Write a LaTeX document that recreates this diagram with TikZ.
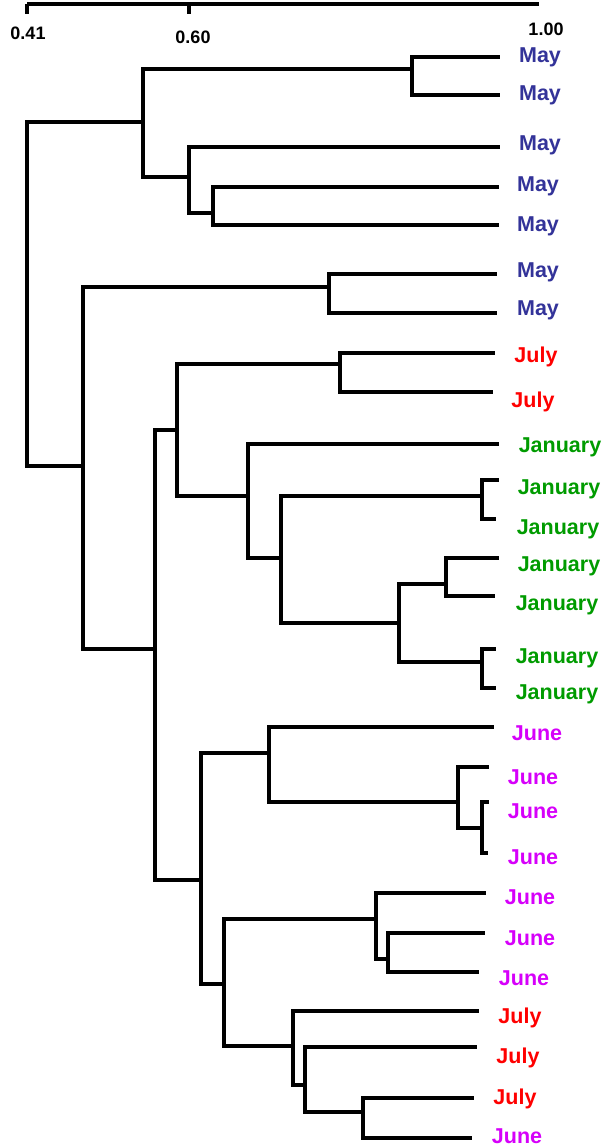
\documentclass[tikz,border=0pt]{standalone}
\usepackage{fontspec}
\setmainfont{Liberation Sans}
\definecolor{mayc}{RGB}{51,51,153}
\definecolor{julyc}{RGB}{255,0,0}
\definecolor{janc}{RGB}{0,155,0}
\definecolor{junec}{RGB}{214,0,250}
\begin{document}
\begin{tikzpicture}[x=1pt,y=-1pt,
  branch/.style={line width=3.4pt,line join=miter,black},
  leaflab/.style={font=\fontsize{21.5}{21.5}\selectfont\bfseries,inner sep=0pt,anchor=center},
  axlab/.style={font=\fontsize{18}{18}\selectfont\bfseries,inner sep=0pt,anchor=center},
  may/.style={leaflab,text=mayc},
  july/.style={leaflab,text=julyc},
  jan/.style={leaflab,text=janc},
  june/.style={leaflab,text=junec}]
\useasboundingbox (0,0) rectangle (606,1147);
% axis
\coordinate (ax0) at (27,4);
\coordinate (ax1) at (539,4);
\coordinate (t0) at (27,14);
\coordinate (t1) at (189,4);
\coordinate (t1b) at (189,14);
\draw[line width=3.2pt] (ax0) -- (ax1);
\draw[line width=3.2pt] (ax0) -- (t0);
\draw[line width=3.2pt] (t1) -- (t1b);
\node[axlab] (a041) at (28,33) {0.41};
\node[axlab] (a060) at (193,37) {0.60};
\node[axlab] (a100) at (546,29) {1.00};
% leaf ends
\coordinate (l1) at (500,57);
\coordinate (l2) at (500,95);
\coordinate (l3) at (500,147);
\coordinate (l4) at (499,187);
\coordinate (l5) at (499,225);
\coordinate (l6) at (497,274);
\coordinate (l7) at (497,313);
\coordinate (l8) at (495,353);
\coordinate (l9) at (493,392);
\coordinate (l10) at (499,444);
\coordinate (l11) at (499,480);
\coordinate (l12) at (496,519);
\coordinate (l13) at (499,558);
\coordinate (l14) at (495,596);
\coordinate (l15) at (496,649);
\coordinate (l16) at (496,688);
\coordinate (l17) at (494,727);
\coordinate (l18) at (489,767);
\coordinate (l19) at (489,802);
\coordinate (l20) at (488,853);
\coordinate (l21) at (486,893);
\coordinate (l22) at (485,933);
\coordinate (l23) at (479,972);
\coordinate (l24) at (479,1011);
\coordinate (l25) at (477,1047);
\coordinate (l26) at (474,1098);
\coordinate (l27) at (472,1138);
% labels
\node[may] (n1) at (540,57) {May};
\node[may] (n2) at (540,95) {May};
\node[may] (n3) at (540,145) {May};
\node[may] (n4) at (538,186) {May};
\node[may] (n5) at (538,226) {May};
\node[may] (n6) at (538,272) {May};
\node[may] (n7) at (538,310) {May};
\node[july] (n8) at (536,357) {July};
\node[july] (n9) at (533,402) {July};
\node[jan] (n10) at (560,447) {January};
\node[jan] (n11) at (559,489) {January};
\node[jan] (n12) at (558,529) {January};
\node[jan] (n13) at (559,566) {January};
\node[jan] (n14) at (557,605) {January};
\node[jan] (n15) at (557,658) {January};
\node[jan] (n16) at (557,694) {January};
\node[june] (n17) at (537,733) {June};
\node[june] (n18) at (533,777) {June};
\node[june] (n19) at (533,811) {June};
\node[june] (n20) at (533,857) {June};
\node[june] (n21) at (530,897) {June};
\node[june] (n22) at (530,938) {June};
\node[june] (n23) at (524,978) {June};
\node[july] (n24) at (520,1018) {July};
\node[july] (n25) at (518,1058) {July};
\node[july] (n26) at (515,1099) {July};
\node[june] (n27) at (517,1136) {June};
% internal nodes
\coordinate (A) at (412,69);
\coordinate (C) at (213,213);
\coordinate (B) at (189,177);
\coordinate (AB) at (143,122);
\coordinate (D) at (329,287);
\coordinate (F) at (340,364);
\coordinate (K) at (482,496);
\coordinate (L) at (446,584);
\coordinate (N) at (482,662);
\coordinate (M) at (399,623);
\coordinate (J) at (281,558);
\coordinate (I) at (248,496);
\coordinate (G) at (177,430);
\coordinate (Q) at (482,828);
\coordinate (P) at (458,802);
\coordinate (O) at (269,753);
\coordinate (T) at (388,959);
\coordinate (S) at (376,919);
\coordinate (X) at (363,1112);
\coordinate (W) at (305,1085);
\coordinate (V) at (293,1046);
\coordinate (U) at (224,984);
\coordinate (R) at (201,880);
\coordinate (H) at (155,649);
\coordinate (E) at (83,466);
\coordinate (root) at (27,300);
% branches
\begin{scope}[branch]
\draw (A) |- (l1); \draw (A) |- (l2);
\draw (C) |- (l4); \draw (C) |- (l5);
\draw (B) |- (l3); \draw (B) |- (C);
\draw (AB) |- (A); \draw (AB) |- (B);
\draw (D) |- (l6); \draw (D) |- (l7);
\draw (F) |- (l8); \draw (F) |- (l9);
\draw (K) |- (l11); \draw (K) |- (l12);
\draw (L) |- (l13); \draw (L) |- (l14);
\draw (N) |- (l15); \draw (N) |- (l16);
\draw (M) |- (L); \draw (M) |- (N);
\draw (J) |- (K); \draw (J) |- (M);
\draw (I) |- (l10); \draw (I) |- (J);
\draw (G) |- (F); \draw (G) |- (I);
\draw (Q) |- (l19); \draw (Q) |- (l20);
\draw (P) |- (l18); \draw (P) |- (Q);
\draw (O) |- (l17); \draw (O) |- (P);
\draw (T) |- (l22); \draw (T) |- (l23);
\draw (S) |- (l21); \draw (S) |- (T);
\draw (X) |- (l26); \draw (X) |- (l27);
\draw (W) |- (l25); \draw (W) |- (X);
\draw (V) |- (l24); \draw (V) |- (W);
\draw (U) |- (S); \draw (U) |- (V);
\draw (R) |- (O); \draw (R) |- (U);
\draw (H) |- (G); \draw (H) |- (R);
\draw (E) |- (D); \draw (E) |- (H);
\draw (root) |- (AB); \draw (root) |- (E);
\end{scope}
\end{tikzpicture}
\end{document}
